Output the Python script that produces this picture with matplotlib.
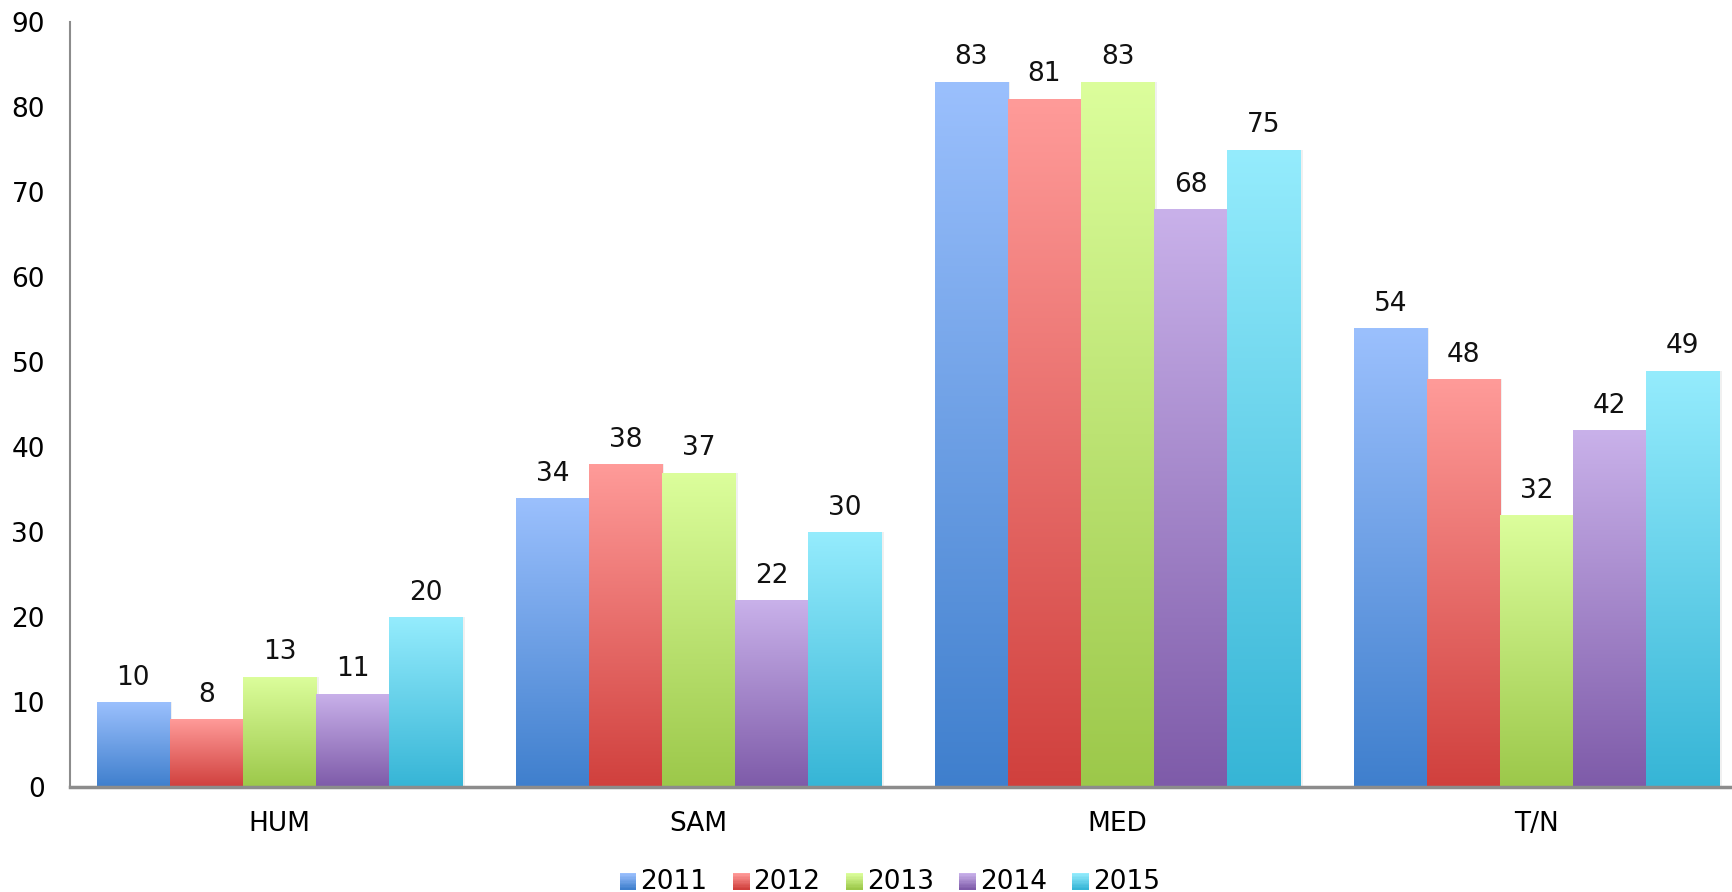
import numpy as np
import matplotlib
matplotlib.use('Agg')
import matplotlib.pyplot as plt
from matplotlib.colors import LinearSegmentedColormap, to_rgb
from matplotlib.legend_handler import HandlerBase
from matplotlib.patches import Rectangle

categories = ['HUM', 'SAM', 'MED', 'T/N']
years = ['2011', '2012', '2013', '2014', '2015']
values = {
    '2011': [10, 34, 83, 54],
    '2012': [8, 38, 81, 48],
    '2013': [13, 37, 83, 32],
    '2014': [11, 22, 68, 42],
    '2015': [20, 30, 75, 49],
}
y_ticks = [0, 10, 20, 30, 40, 50, 60, 70, 80, 90]

# (top, bottom) gradient colours per series
GRADIENTS = {
    '2011': ('#9bc0fd', '#3f7fcd'),
    '2012': ('#ff9b99', '#d0403d'),
    '2013': ('#dcfe9c', '#9cc84a'),
    '2014': ('#c9b1ea', '#7e5ba9'),
    '2015': ('#95ecfd', '#36b5d6'),
}

FS = 19
plt.rcParams['font.family'] = 'DejaVu Sans'


class GradientHandler(HandlerBase):
    def __init__(self, top, bottom, n=12):
        super().__init__()
        self.top, self.bottom, self.n = top, bottom, n

    def create_artists(self, legend, orig_handle, xdescent, ydescent,
                       width, height, fontsize, trans):
        side = height * 0.9
        x0 = xdescent + width - side
        y0 = -ydescent + (height - side) / 2 - 1
        c1, c2 = np.array(to_rgb(self.top)), np.array(to_rgb(self.bottom))
        arts = []
        for i in range(self.n):
            t = i / (self.n - 1)
            col = c2 * (1 - t) + c1 * t
            arts.append(Rectangle((x0, y0 + side * i / self.n), side, side / self.n + 0.3,
                                  facecolor=col, edgecolor='none', transform=trans))
        return arts


fig = plt.figure(figsize=(17.32, 8.92), dpi=100)
ax = fig.add_axes([0.0404, 0.1177, 0.9677, 0.8576])

n = len(years)
width = 0.1745
x = np.arange(len(categories))
grad = np.linspace(1, 0, 256).reshape(-1, 1)

handles = []
for i, yr in enumerate(years):
    pos = x + (i - (n - 1) / 2) * width
    bars = ax.bar(pos, values[yr], width, color='none', edgecolor='none', zorder=2)
    cmap = LinearSegmentedColormap.from_list(yr, [GRADIENTS[yr][1], GRADIENTS[yr][0]])
    for b in bars:
        bx, bw, bh = b.get_x(), b.get_width(), b.get_height()
        # soft shadow
        ax.add_patch(Rectangle((bx + 0.006, 0), bw, bh, facecolor='#000000',
                               alpha=0.06, edgecolor='none', zorder=1))
        im = ax.imshow(grad, cmap=cmap, extent=[bx, bx + bw, 0, bh],
                       aspect='auto', zorder=2, interpolation='bilinear')
        im.set_clip_path(b)
    for p, v in zip(pos, values[yr]):
        ax.annotate(str(v), (p, v), xytext=(0, 8), textcoords='offset points',
                    ha='center', va='bottom', fontsize=FS, color='#111111')
    handles.append(bars)

ax.set_xlim(-0.5, 3.5)
ax.set_ylim(0, 90)
ax.set_yticks(y_ticks)
ax.set_xticks(x)
ax.set_xticklabels(categories)
ax.tick_params(axis='y', length=0, pad=18, labelsize=FS)
ax.tick_params(axis='x', length=0, pad=17, labelsize=FS)
for s in ['top', 'right']:
    ax.spines[s].set_visible(False)
ax.spines['left'].set_color('#8c8c8c')
ax.spines['left'].set_linewidth(1.5)
ax.spines['bottom'].set_color('#8c8c8c')
ax.spines['bottom'].set_linewidth(2.5)

handler_map = {h: GradientHandler(*GRADIENTS[yr]) for h, yr in zip(handles, years)}
fig.legend(handles, years, handler_map=handler_map, loc='center',
           bbox_to_anchor=(0.514, 0.011), ncol=5, frameon=False, fontsize=FS,
           handlelength=0.6, handletextpad=0.15, columnspacing=1.0)

fig.savefig('out.png', dpi=100)
